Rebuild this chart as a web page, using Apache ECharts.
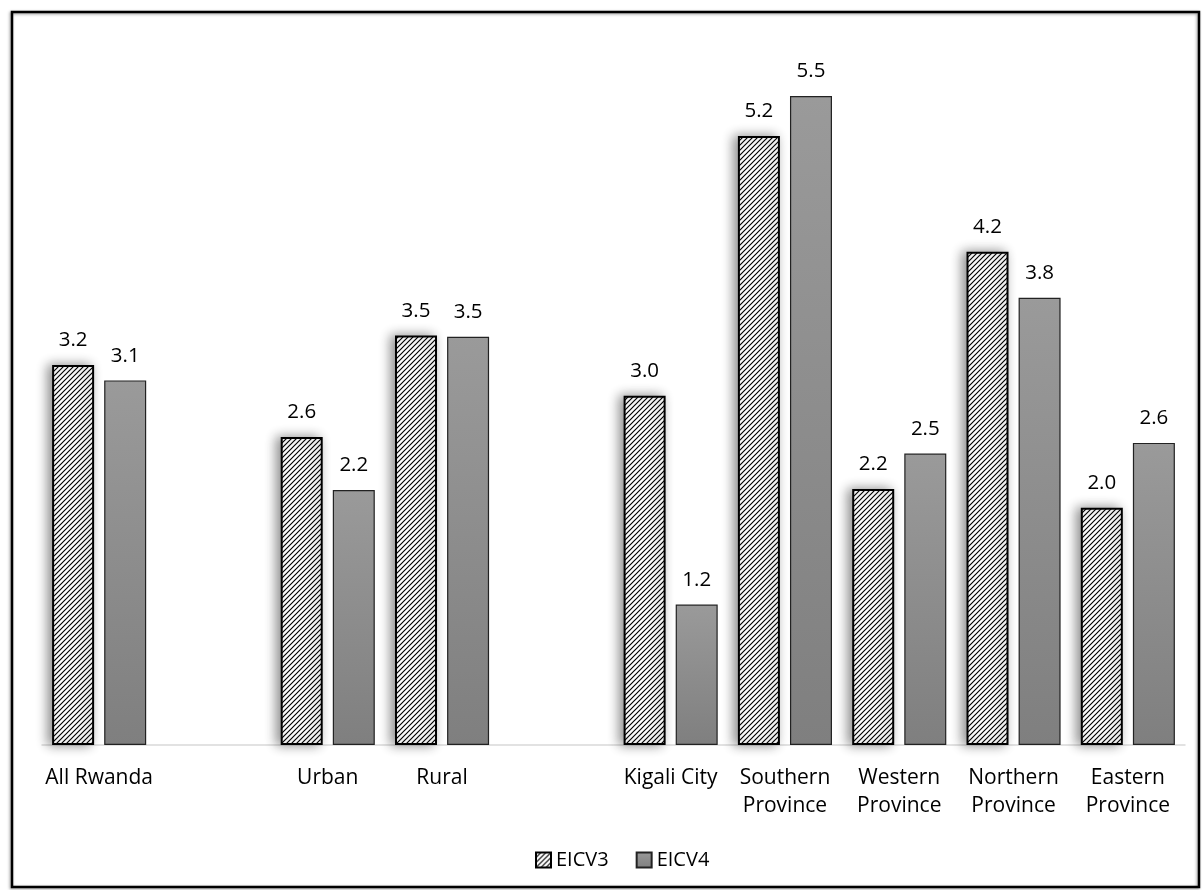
<!DOCTYPE html>
<html>
<head>
<meta charset="utf-8">
<script src="https://cdn.jsdelivr.net/npm/echarts@6/dist/echarts.min.js"></script>
<style>
html,body{margin:0;padding:0;background:#fff;}
#chart{width:1202px;height:890px;}
</style>
</head>
<body>
<div id="chart"></div>
<script>
// Data (blank categories separate the groups)
var categories = ['All Rwanda', '', 'Urban', 'Rural', '', 'Kigali City', 'Southern\nProvince', 'Western\nProvince', 'Northern\nProvince', 'Eastern\nProvince'];
var eicv3 = [3.22, null, 2.61, 3.47, null, 2.96, 5.16, 2.17, 4.18, 2.01];
var eicv4 = [3.09, null, 2.16, 3.46, null, 1.19, 5.50, 2.47, 3.79, 2.56];
var seriesNames = ['EICV3', 'EICV4'];

var FONT = '"Open Sans", sans-serif';

// diagonal hatch pattern
function makeHatch() {
  var p = 5;
  var c = document.createElement('canvas');
  c.width = p; c.height = p;
  var ctx = c.getContext('2d');
  ctx.fillStyle = '#ffffff';
  ctx.fillRect(0, 0, p, p);
  ctx.strokeStyle = '#000000';
  ctx.lineWidth = 1.15;
  ctx.beginPath();
  ctx.moveTo(-1, p + 1); ctx.lineTo(p + 1, -1);
  ctx.moveTo(-1, 1); ctx.lineTo(1, -1);
  ctx.moveTo(p - 1, p + 1); ctx.lineTo(p + 1, p - 1);
  ctx.stroke();
  return c;
}
var hatch = makeHatch();

var chart = echarts.init(document.getElementById('chart'), null, {renderer: 'canvas'});

var labelCfg = {
  show: true,
  position: 'top',
  distance: 14,
  fontFamily: FONT,
  fontSize: 20.5,
  color: '#000',
  formatter: function (p) { return p.value == null ? '' : (Math.round(p.value * 10) / 10).toFixed(1); }
};

chart.setOption({
  animation: false,
  backgroundColor: '#fff',
  textStyle: {fontFamily: FONT},
  graphic: [{
    type: 'rect',
    shape: {x: 12, y: 12, width: 1187, height: 875},
    style: {fill: 'none', stroke: '#000', lineWidth: 2.5, shadowBlur: 3, shadowColor: 'rgba(0,0,0,0.4)', shadowOffsetX: -1, shadowOffsetY: 1},
    z: 100
  }],
  grid: {left: 42, right: 17, top: 37, bottom: 145, containLabel: false},
  legend: {
    data: seriesNames,
    top: 845,
    left: 530,
    itemWidth: 15,
    itemHeight: 15,
    itemGap: 27,
    textStyle: {fontFamily: FONT, fontSize: 20, color: '#000', padding: [0, 0, 0, 0]},
    icon: 'rect'
  },
  xAxis: {
    type: 'category',
    data: categories,
    axisLine: {show: true, lineStyle: {color: '#d9d9d9', width: 1.5}},
    axisTick: {show: false},
    axisLabel: {
      interval: 0,
      margin: 19,
      fontFamily: FONT,
      fontSize: 21,
      lineHeight: 28,
      color: '#000'
    }
  },
  yAxis: {
    type: 'value',
    min: 0,
    max: 6,
    interval: 1,
    show: false,
    splitLine: {show: false}
  },
  series: [{
    name: seriesNames[0],
    type: 'bar',
    data: eicv3,
    barWidth: 42,
    barGap: '24%',
    itemStyle: {
      color: {image: hatch, repetition: 'repeat'},
      borderColor: '#000',
      borderWidth: 2,
      shadowBlur: 12,
      shadowColor: 'rgba(0,0,0,0.45)',
      shadowOffsetX: -4,
      shadowOffsetY: 0
    },
    label: labelCfg
  }, {
    name: seriesNames[1],
    type: 'bar',
    data: eicv4,
    barWidth: 42,
    itemStyle: {
      color: {
        type: 'linear', x: 0, y: 0, x2: 0, y2: 1,
        colorStops: [{offset: 0, color: '#9a9a9a'}, {offset: 1, color: '#7f7f7f'}]
      },
      borderColor: '#222',
      borderWidth: 1.2
    },
    label: labelCfg
  }]
});
</script>
</body>
</html>
